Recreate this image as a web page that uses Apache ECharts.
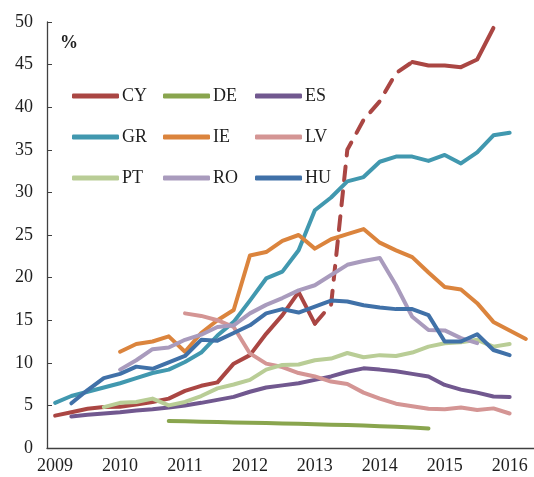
<!DOCTYPE html>
<html>
<head>
<meta charset="utf-8">
<script src="https://cdn.jsdelivr.net/npm/echarts@6/dist/echarts.min.js"></script>
<style>
html, body { margin: 0; padding: 0; background: #fff; }
#chart { width: 534px; height: 477px; }
</style>
</head>
<body>
<div id="chart"></div>
<script>
// quarterly data, 2009Q1 .. 2016Q2
var years = ['2009', '2010', '2011', '2012', '2013', '2014', '2015', '2016'];
var quarters = [];
years.forEach(function (y) {
    ['Q1', 'Q2', 'Q3', 'Q4'].forEach(function (q) { quarters.push(y + q); });
});
quarters = quarters.slice(0, 30);

var yTicks = [0, 5, 10, 15, 20, 25, 30, 35, 40, 45, 50];

// CY: solid to 2013Q1, dashed 2013Q1-2014Q3, solid again after
var cyStart = '2009Q1';
var cy = [3.8, 4.2, 4.6, 4.8, 4.85, 5.1, 5.4, 5.8, 6.7, 7.3, 7.7, 9.9, 10.9, 13.4, 15.6, 18.3,
          14.6, 16.8, 35.0, 38.5, 40.7, 44.0, 45.3, 44.9, 44.9, 44.7, 45.6, 49.3];
var cyDashFrom = '2013Q1';
var cyDashTo = '2014Q3';

var deStart = '2010Q4';
var de = [3.17, 3.13, 3.08, 3.04, 3.0, 2.97, 2.93, 2.88, 2.84, 2.79, 2.74, 2.7, 2.64, 2.56, 2.48, 2.4, 2.3];

var esStart = '2009Q2';
var es = [3.7, 3.9, 4.05, 4.2, 4.4, 4.55, 4.75, 5.0, 5.3, 5.65, 6.0, 6.6, 7.1, 7.35, 7.6, 8.0, 8.4,
          8.95, 9.35, 9.2, 9.0, 8.7, 8.4, 7.4, 6.85, 6.5, 6.05, 6.0];

var grStart = '2009Q1';
var gr = [5.3, 6.1, 6.6, 7.1, 7.6, 8.2, 8.8, 9.2, 10.1, 11.2, 13.2, 14.8, 17.3, 19.9, 20.7, 23.2,
          27.9, 29.4, 31.3, 31.8, 33.6, 34.2, 34.2, 33.7, 34.4, 33.4, 34.7, 36.7, 37.0];

var ieStart = '2010Q1';
var ie = [11.3, 12.2, 12.5, 13.1, 11.3, 13.5, 15.0, 16.2, 22.6, 23.0, 24.3, 25.0, 23.4, 24.5, 25.1,
          25.7, 24.1, 23.2, 22.4, 20.6, 18.9, 18.6, 17.0, 14.8, 13.8, 12.8];

var lvStart = '2011Q1';
var lv = [15.8, 15.5, 15.0, 14.2, 11.1, 9.9, 9.5, 8.8, 8.4, 7.8, 7.5, 6.5, 5.8, 5.2, 4.9, 4.6, 4.55,
          4.75, 4.45, 4.65, 4.05];

var ptStart = '2009Q4';
var pt = [4.8, 5.3, 5.4, 5.8, 5.0, 5.4, 6.1, 7.0, 7.45, 8.0, 9.2, 9.75, 9.8, 10.3, 10.5, 11.15,
          10.65, 10.9, 10.8, 11.2, 11.9, 12.3, 12.4, 12.7, 11.9, 12.2];

var roStart = '2010Q1';
var ro = [9.2, 10.3, 11.6, 11.8, 12.7, 13.3, 14.2, 14.4, 15.8, 16.8, 17.6, 18.5, 19.1, 20.3, 21.5,
          21.95, 22.3, 19.1, 15.4, 13.85, 13.8, 12.9, 12.3];

var huStart = '2009Q2';
var hu = [5.25, 6.8, 8.2, 8.7, 9.55, 9.3, 10.05, 10.8, 12.7, 12.6, 13.5, 14.4, 15.8, 16.3, 15.9,
          16.6, 17.3, 17.2, 16.75, 16.5, 16.3, 16.3, 15.6, 12.5, 12.5, 13.35, 11.5, 10.9];

var FONT = 'Liberation Serif';
var TEXT = '#1f1f1f';
var AXIS = '#404040';

// pad a series to the full quarter list, optionally keeping only [from, to]
function place(start, values, from, to) {
    var out = quarters.map(function () { return null; });
    var s = quarters.indexOf(start);
    var lo = from ? quarters.indexOf(from) : 0;
    var hi = to ? quarters.indexOf(to) : quarters.length - 1;
    values.forEach(function (v, k) {
        var i = s + k;
        if (i >= lo && i <= hi) out[i] = v;
    });
    return out;
}

function line(name, color, data, dash) {
    return {
        name: name,
        type: 'line',
        data: data,
        symbol: 'none',
        connectNulls: false,
        lineStyle: {
            color: color,
            width: 4,
            cap: 'round',
            join: 'round',
            type: dash || 'solid'
        },
        itemStyle: { color: color },
        emphasis: { disabled: true }
    };
}

function legendCol(names, left) {
    return {
        data: names,
        orient: 'vertical',
        left: left,
        top: 87,
        padding: 0,
        itemGap: 23,
        itemWidth: 47,
        itemHeight: 5,
        icon: 'roundRect',
        selectedMode: false,
        textStyle: { fontFamily: FONT, fontSize: 18, color: TEXT, padding: [0, 0, 0, -2] }
    };
}

var chart = echarts.init(document.getElementById('chart'), null, { renderer: 'canvas' });

chart.setOption({
    animation: false,
    backgroundColor: '#fff',
    graphic: [{
        type: 'text',
        left: 60,
        top: 34,
        style: { text: '%', font: 'bold 18px "Liberation Serif"', fill: TEXT }
    }],
    legend: [
        legendCol(['CY', 'GR', 'PT'], 72),
        legendCol(['DE', 'IE', 'RO'], 163),
        legendCol(['ES', 'LV', 'HU'], 255)
    ],
    grid: { left: 47, top: 22, width: 488, height: 426, containLabel: false },
    xAxis: {
        type: 'category',
        data: quarters,
        boundaryGap: true,
        axisLine: { lineStyle: { color: AXIS, width: 1.3 } },
        axisTick: { inside: true, length: 6, interval: 3, lineStyle: { color: AXIS } },
        axisLabel: {
            interval: 3,
            margin: 9,
            fontFamily: FONT,
            fontSize: 18,
            color: TEXT,
            formatter: function (v) { return v.slice(0, 4); }
        },
        splitLine: { show: false }
    },
    yAxis: {
        type: 'value',
        min: yTicks[0],
        max: yTicks[yTicks.length - 1],
        interval: yTicks[1] - yTicks[0],
        axisLine: { show: true, lineStyle: { color: AXIS, width: 1.3 } },
        axisTick: { show: true, inside: true, length: 5, lineStyle: { color: AXIS } },
        axisLabel: { margin: 14, fontFamily: FONT, fontSize: 18, color: TEXT },
        splitLine: { show: false }
    },
    series: [
        line('CY', '#AA4643', place(cyStart, cy, null, cyDashFrom)),
        line('CY', '#AA4643', place(cyStart, cy, cyDashFrom, cyDashTo), [14, 11]),
        line('CY', '#AA4643', place(cyStart, cy, cyDashTo, null)),
        line('DE', '#89A54E', place(deStart, de)),
        line('ES', '#71588F', place(esStart, es)),
        line('GR', '#4198AF', place(grStart, gr)),
        line('IE', '#DB843D', place(ieStart, ie)),
        line('LV', '#D49594', place(lvStart, lv)),
        line('PT', '#B9CD96', place(ptStart, pt)),
        line('RO', '#A99BBD', place(roStart, ro)),
        line('HU', '#4071A8', place(huStart, hu))
    ]
});
</script>
</body>
</html>
